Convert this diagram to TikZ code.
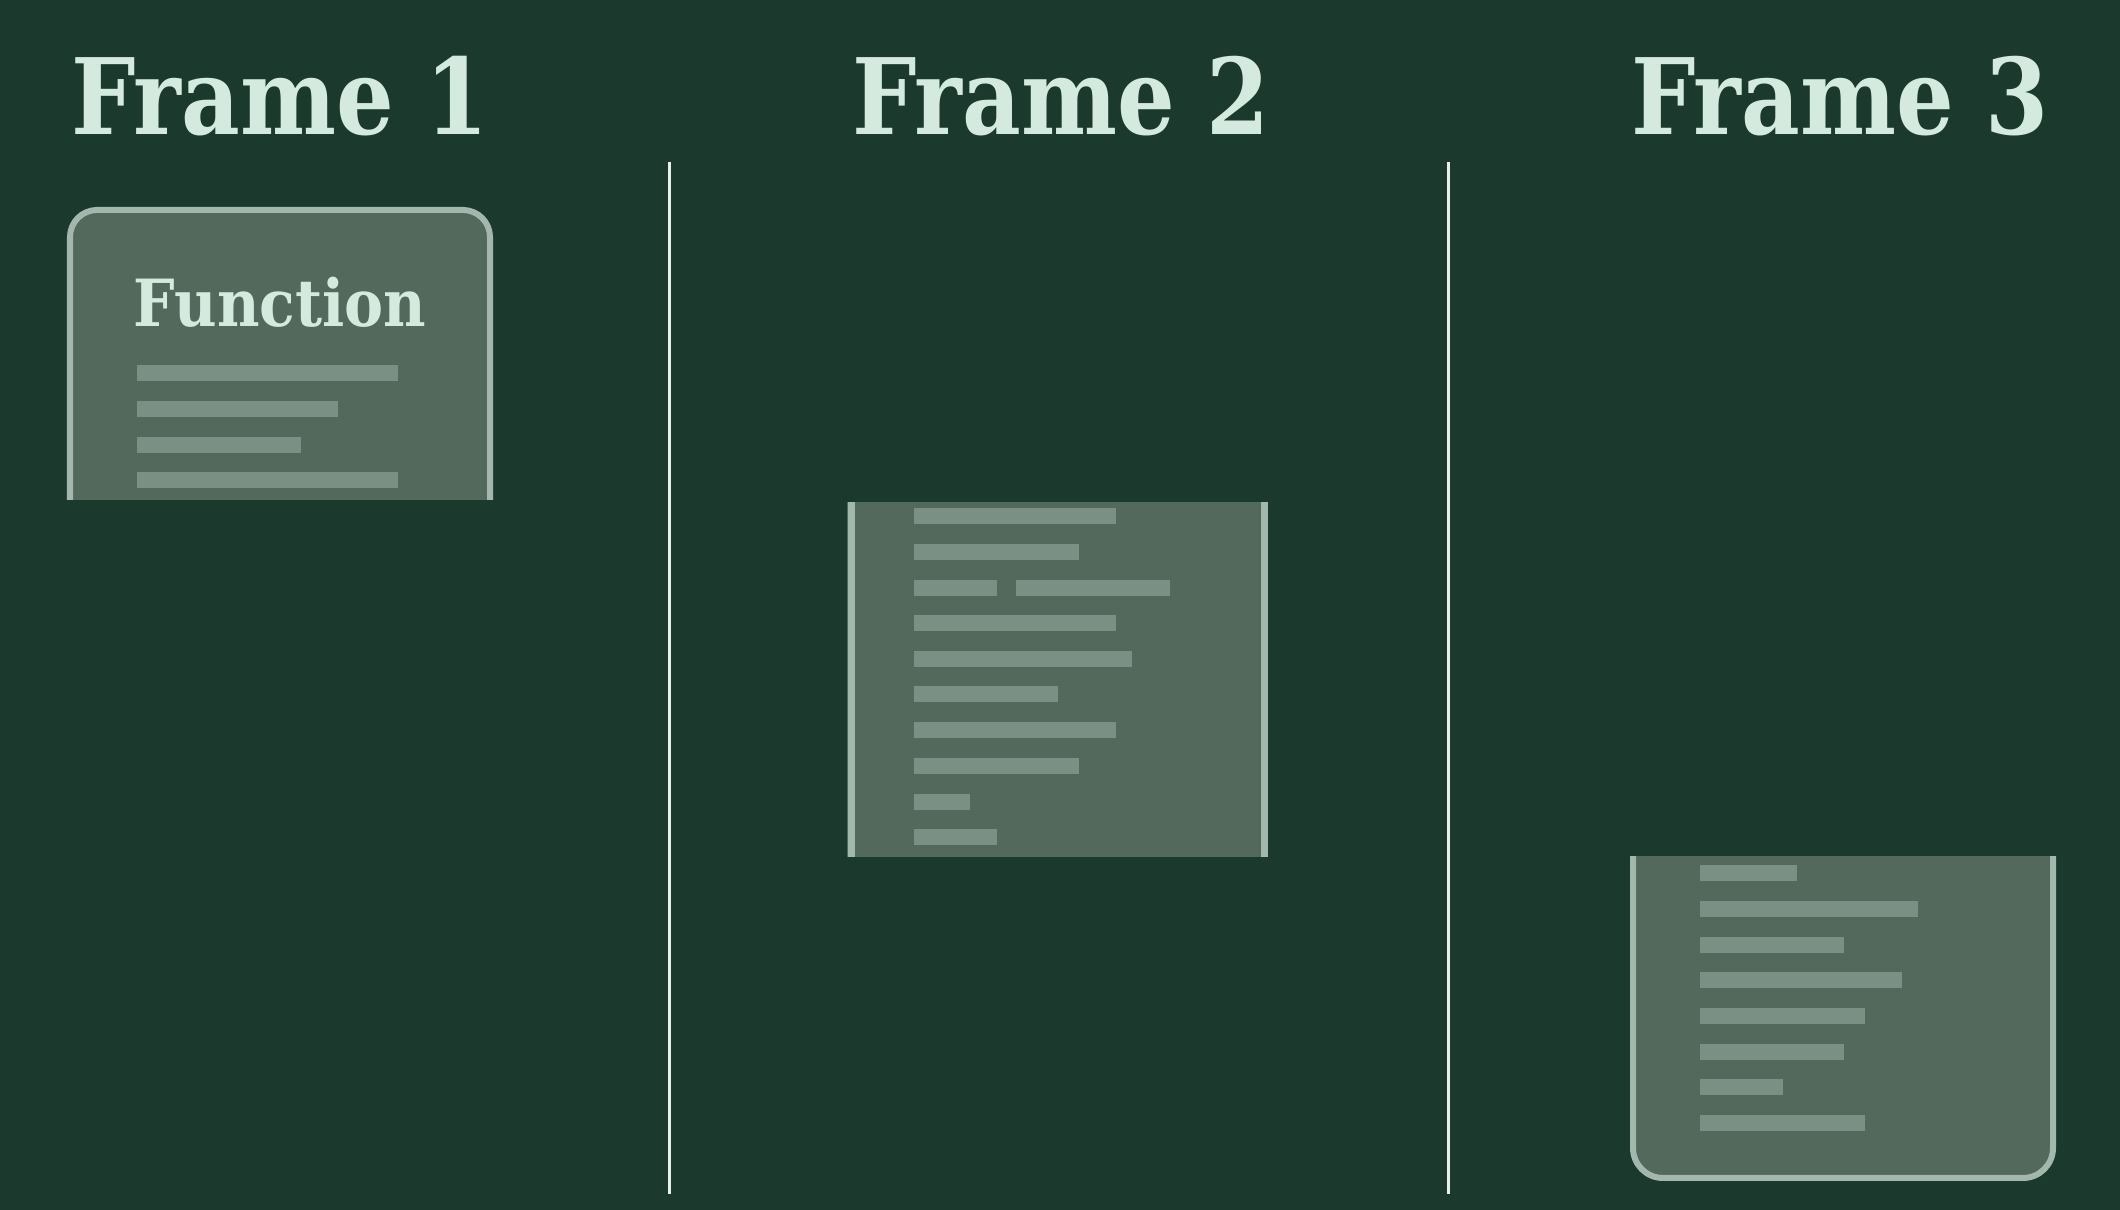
\documentclass[tikz,border=0pt]{standalone}
\usepackage{fontspec}
\setmainfont{DejaVu Serif}
\definecolor{bgcol}{HTML}{1C392D}
\definecolor{boxcol}{HTML}{52695C}
\definecolor{edgecol}{HTML}{A3B8AD}
\definecolor{barcol}{HTML}{7A9084}
\definecolor{textcol}{HTML}{D4EADF}
\definecolor{linecol}{HTML}{E8F0EC}
\begin{document}
\begin{tikzpicture}[x=0.01cm, y=-0.01cm]

\tikzset{titletext/.style={text=textcol, inner sep=0, anchor=base, font=\bfseries\fontsize{30}{36}\selectfont}}
\tikzset{boxbody/.style={fill=boxcol, draw=edgecol, line width=0.06cm}}
\tikzset{codebar/.style={fill=barcol}}
\tikzset{divider/.style={draw=linecol, line width=0.03cm}}

% background
\fill[bgcol] (0,0) rectangle (2120,1210);
\useasboundingbox (0,0) rectangle (2120,1210);

% frame titles
\node[titletext] at ( 280, 135) (title1) {\scalebox{0.86}[1]{Frame 1}};
\node[titletext] at (1061, 135) (title2) {\scalebox{0.86}[1]{Frame 2}};
\node[titletext] at (1840, 135) (title3) {\scalebox{0.86}[1]{Frame 3}};

% dividers between the frames
\coordinate (div1top) at ( 669, 162);
\coordinate (div1bot) at ( 669, 1194);
\coordinate (div2top) at (1448, 162);
\coordinate (div2bot) at (1448, 1194);
\draw[divider] (div1top) -- (div1bot);
\draw[divider] (div2top) -- (div2bot);

% frame 1: top of the function
\begin{scope}
  \clip (50,190) rectangle (510,500);
  \draw[boxbody, rounded corners=0.27cm] (70,210) rectangle (490,560);
\end{scope}
\node[text=textcol, inner sep=0, anchor=base, font=\bfseries\fontsize{18.5}{22}\selectfont] at (280,327) (fname) {\scalebox{0.9}[1]{Function}};
\foreach \y/\e in {373/398, 409/338, 445/301, 480/398}
  \fill[codebar] (137,\y-8) rectangle (\e,\y+8);

% frame 2: middle of the function
\fill[boxcol] (847,502) rectangle (1268,857);
\draw[edgecol, line width=0.07cm] (851,502) -- (851,857);
\draw[edgecol, line width=0.07cm] (1264,502) -- (1264,857);
\foreach \y/\e in {516/1116, 552/1079, 623/1116, 659/1132, 694/1058, 730/1116, 766/1079, 802/970, 837/997}
  \fill[codebar] (914,\y-8) rectangle (\e,\y+8);
\fill[codebar] (914,580) rectangle (997,596);
\fill[codebar] (1016,580) rectangle (1170,596);

% frame 3: bottom of the function
\begin{scope}
  \clip (1610,857) rectangle (2080,1200);
  \draw[boxbody, rounded corners=0.3cm] (1633,800) rectangle (2053,1178);
\end{scope}
\foreach \y/\e in {873/1797, 909/1918, 945/1844, 980/1902, 1016/1865, 1052/1844, 1087/1783, 1123/1865}
  \fill[codebar] (1700,\y-8) rectangle (\e,\y+8);

\end{tikzpicture}
\end{document}
